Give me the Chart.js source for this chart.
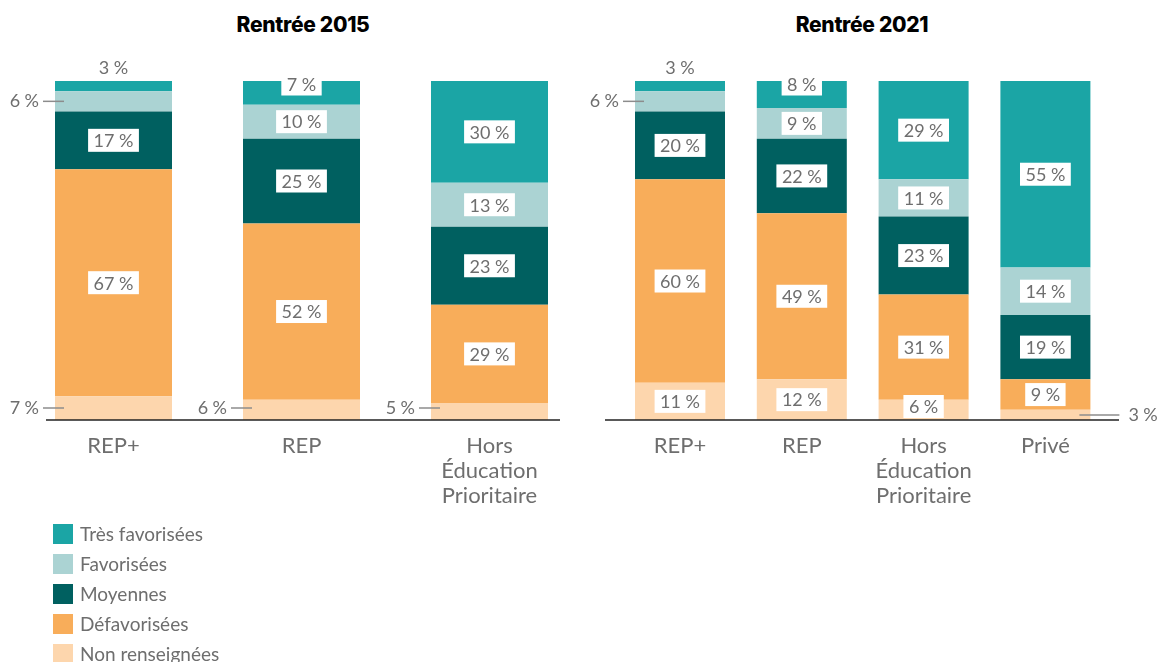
<!DOCTYPE html>
<html>
<head>
<meta charset="utf-8">
<script src="https://cdn.jsdelivr.net/npm/chart.js@4"></script>
<style>
  body { margin: 0; background: #fff; width: 1158px; height: 662px; position: relative; overflow: hidden; font-family: Lato, sans-serif; }
  canvas { position: absolute; top: 0; }
  .title { position: absolute; top: 12px; transform: translateX(-50%); font-family: Inter, sans-serif; font-weight: 800; font-size: 21px; color: #000; white-space: nowrap; letter-spacing: -0.3px; }
  #legend { position: absolute; left: 53px; top: 524px; }
  .item { height: 30px; display: flex; align-items: flex-start; }
  .swatch { width: 20px; height: 20px; margin-right: 7px; }
  .item span { font-size: 19px; color: #6e6e6e; line-height: 20px; }
</style>
</head>
<body>
<div class="title" style="left:303px">Rentrée 2015</div>
<div class="title" style="left:862px">Rentrée 2021</div>
<canvas id="chart2015" width="590" height="662" style="left:0"></canvas>
<canvas id="chart2021" width="568" height="662" style="left:590px"></canvas>
<div id="legend"></div>
<script>
// categories
const categories2015 = [["REP+"], ["REP"], ["Hors", "Éducation", "Prioritaire"]];
const categories2021 = [["REP+"], ["REP"], ["Hors", "Éducation", "Prioritaire"], ["Privé"]];

// groups (legend order, top to bottom)
const groups = ["Très favorisées", "Favorisées", "Moyennes", "Défavorisées", "Non renseignées"];
const groupKeys = ["tres", "fav", "moy", "defav", "non"];
const groupColors = ["#1ba5a5", "#abd3d3", "#006060", "#f8ad5a", "#fdd6ad"];

// values, in %
const tres2015 = [3, 7, 30];
const fav2015 = [6, 10, 13];
const moy2015 = [17, 25, 23];
const defav2015 = [67, 52, 29];
const non2015 = [7, 6, 5];

const tres2021 = [3, 8, 29, 55];
const fav2021 = [6, 9, 11, 14];
const moy2021 = [20, 22, 23, 19];
const defav2021 = [60, 49, 31, 9];
const non2021 = [11, 12, 6, 3];

// where the small labels go (default: inside, centred)
const place2015 = { "tres:0": "above", "fav:0": "left", "non:0": "left", "non:1": "left", "non:2": "left", "tres:1": "top" };
const place2021 = { "tres:0": "above", "fav:0": "left", "non:3": "right", "tres:1": "top" };

const textGray = "#6e6e6e";
const leaderGray = "#8c8c8c";

const segLabels = {
    id: "segLabels",
    afterDatasetsDraw(chart, args, opts) {
        const ctx = chart.ctx;
        const area = chart.chartArea;
        ctx.save();
        ctx.font = "18px Lato";
        ctx.textBaseline = "middle";

        chart.data.datasets.forEach((ds, di) => {
            const meta = chart.getDatasetMeta(di);
            meta.data.forEach((bar, i) => {
                const text = ds.data[i] + "\u202F%";
                const left = bar.x - bar.width / 2;
                const right = bar.x + bar.width / 2;
                const top = Math.min(bar.y, bar.base);
                const bottom = Math.max(bar.y, bar.base);
                const cy = (top + bottom) / 2;
                const where = opts.place[ds.key + ":" + i] || "inside";

                if (where == "above") {
                    ctx.fillStyle = textGray;
                    ctx.textAlign = "center";
                    ctx.fillText(text, bar.x, top - 13);
                } else if (where == "left") {
                    const y = Math.min(cy, area.bottom - 12);
                    ctx.strokeStyle = leaderGray;
                    ctx.lineWidth = 1.5;
                    ctx.beginPath();
                    ctx.moveTo(left - 12, y);
                    ctx.lineTo(left + 9, y);
                    ctx.stroke();
                    ctx.fillStyle = textGray;
                    ctx.textAlign = "right";
                    ctx.fillText(text, left - 16, y);
                } else if (where == "right") {
                    ctx.strokeStyle = leaderGray;
                    ctx.lineWidth = 1.5;
                    ctx.beginPath();
                    ctx.moveTo(right - 11, cy);
                    ctx.lineTo(right + 29, cy);
                    ctx.stroke();
                    ctx.fillStyle = textGray;
                    ctx.textAlign = "left";
                    ctx.fillText(text, right + 38, cy);
                } else {
                    let y = where == "top" ? top + 3 : cy;
                    y = Math.min(y, area.bottom - 13.5);
                    const w = ctx.measureText(text).width + 11;
                    ctx.fillStyle = "#fff";
                    ctx.fillRect(bar.x - w / 2, y - 11.5, w, 23);
                    ctx.fillStyle = textGray;
                    ctx.textAlign = "center";
                    ctx.fillText(text, bar.x, y + 1);
                }
            });
        });

        // baseline
        ctx.strokeStyle = "#222";
        ctx.lineWidth = 1.5;
        ctx.beginPath();
        ctx.moveTo(opts.baseFrom, area.bottom);
        ctx.lineTo(opts.baseTo, area.bottom);
        ctx.stroke();

        // category labels
        ctx.font = "22px Lato";
        ctx.fillStyle = textGray;
        ctx.textAlign = "center";
        const xScale = chart.scales.x;
        chart.data.labels.forEach((lines, i) => {
            const x = xScale.getPixelForValue(i);
            lines.forEach((line, k) => {
                ctx.fillText(line, x, area.bottom + 26 + k * 25);
            });
        });
        ctx.restore();
    }
};

function makeDatasets(series) {
    // stack from the bottom: Non renseignées first
    const out = [];
    for (let g = groups.length - 1; g >= 0; g--) {
        out.push({
            key: groupKeys[g],
            label: groups[g],
            data: series[g],
            backgroundColor: groupColors[g],
            borderWidth: 0,
        });
    }
    return out;
}

function createChart(canvasId, labels, series, barPct, padding, place, baseFrom, baseTo) {
    return new Chart(document.getElementById(canvasId), {
        type: "bar",
        plugins: [segLabels],
        data: {
            labels: labels,
            datasets: makeDatasets(series),
        },
        options: {
            responsive: false,
            animation: false,
            layout: { padding: padding },
            datasets: {
                bar: { categoryPercentage: 1, barPercentage: barPct }
            },
            scales: {
                x: { stacked: true, display: false },
                y: { stacked: true, display: false, min: 0, max: 100 },
            },
            plugins: {
                legend: { display: false },
                tooltip: { enabled: false },
                segLabels: { place: place, baseFrom: baseFrom, baseTo: baseTo },
            },
        },
    });
}

createChart("chart2015", categories2015,
    [tres2015, fav2015, moy2015, defav2015, non2015],
    117 / 188, { left: 19.5, right: 6.5, top: 81, bottom: 242 }, place2015, 46, 560);

createChart("chart2021", categories2021,
    [tres2021, fav2021, moy2021, defav2021, non2021],
    90 / 121.8, { left: 29.1, right: 51.7, top: 81, bottom: 242 }, place2021, 15, 529);

// legend
const legend = document.getElementById("legend");
groups.forEach((name, g) => {
    const item = document.createElement("div");
    item.className = "item";
    item.innerHTML = '<div class="swatch" style="background:' + groupColors[g] + '"></div><span>' + name + '</span>';
    legend.appendChild(item);
});
</script>
</body>
</html>
